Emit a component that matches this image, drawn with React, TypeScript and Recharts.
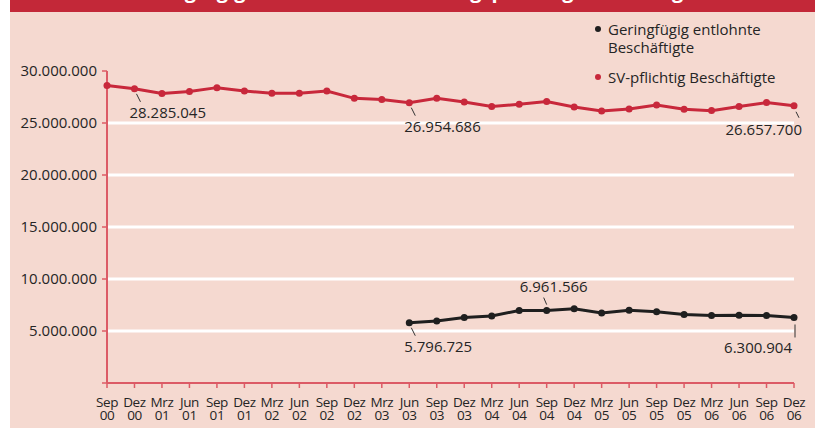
import React from "react";
import { LineChart, Line, XAxis, YAxis, ReferenceLine, Legend, LabelList } from "recharts";

// Quartalswerte Sep 2000 bis Dez 2006
const periods = [
  "Sep 00", "Dez 00", "Mrz 01", "Jun 01", "Sep 01", "Dez 01", "Mrz 02", "Jun 02", "Sep 02",
  "Dez 02", "Mrz 03", "Jun 03", "Sep 03", "Dez 03", "Mrz 04", "Jun 04", "Sep 04", "Dez 04",
  "Mrz 05", "Jun 05", "Sep 05", "Dez 05", "Mrz 06", "Jun 06", "Sep 06", "Dez 06",
];

const svPflichtig = [
  28600000, 28285045, 27830000, 28020000, 28400000, 28080000, 27860000, 27860000, 28080000,
  27370000, 27250000, 26954686, 27370000, 27020000, 26580000, 26800000, 27060000, 26540000,
  26150000, 26350000, 26730000, 26320000, 26190000, 26580000, 26960000, 26657700,
];

const geringfuegig = [
  null, null, null, null, null, null, null, null, null, null, null,
  5796725, 5970000, 6290000, 6450000, 6970000, 6961566, 7130000, 6740000, 7000000,
  6840000, 6580000, 6480000, 6510000, 6480000, 6300904,
];

const yTicks = [0, 5000000, 10000000, 15000000, 20000000, 25000000, 30000000];
const gridValues = [5000000, 10000000, 15000000, 20000000, 25000000];

const title = "Geringfügig und sozialversicherungspflichtig Beschäftigte";

const RED = "#c8283b";
const BLACK = "#1f1f1f";
const AXIS = "#dc5b66";
const TEXT = "#252525";
const BG = "#f5d9d0";
const FONT = "'Open Sans', 'Noto Sans', sans-serif";

const data = periods.map((period, i) => ({
  period,
  sv: svPflichtig[i],
  gering: geringfuegig[i],
}));

const fmt = (v: number) => String(v).replace(/\B(?=(\d{3})+(?!\d))/g, ".");

type Placement = "belowRight" | "belowLeft" | "above" | "belowVertical";

// which points carry a value label, and where it sits
const svLabels: Record<number, Placement> = { 1: "belowRight", 11: "belowRight", 25: "belowLeft" };
const geringLabels: Record<number, Placement> = { 11: "belowRight", 16: "above", 25: "belowVertical" };

function makeLabel(placements: Record<number, Placement>) {
  return (props: any) => {
    const { x, y, value, index } = props;
    const place = placements[index];
    if (!place || value == null) return null;
    let line = [0, 0, 0, 0];
    let tx = x;
    let ty = y;
    let anchor: "start" | "middle" | "end" = "start";
    if (place === "belowRight") {
      line = [x + 2, y + 5, x + 6, y + 13];
      tx = x - 5;
      ty = y + 23;
    } else if (place === "belowLeft") {
      line = [x + 2, y + 6, x + 5, y + 12];
      tx = x + 8;
      ty = y + 23;
      anchor = "end";
    } else if (place === "above") {
      line = [x, y - 6, x - 3, y - 13];
      tx = x + 7;
      ty = y - 25;
      anchor = "middle";
    } else {
      line = [x + 1, y + 7, x + 1, y + 20];
      tx = x - 2;
      ty = y + 30;
      anchor = "end";
    }
    return (
      <g>
        <line x1={line[0]} y1={line[1]} x2={line[2]} y2={line[3]} stroke="#333" strokeWidth={1} />
        <text
          x={tx}
          y={ty}
          textAnchor={anchor}
          dominantBaseline="central"
          fontSize={15}
          fontFamily={FONT}
          fill={TEXT}
        >
          {fmt(value)}
        </text>
      </g>
    );
  };
}

const PeriodTick = (props: any) => {
  const { x, y, payload } = props;
  const [month, year] = String(payload.value).split(" ");
  return (
    <text x={x} y={y} textAnchor="middle" fontSize={13.5} fontFamily={FONT} fill={TEXT} letterSpacing={-0.4}>
      <tspan x={x} dy={17}>{month}</tspan>
      <tspan x={x} dy={13}>{year}</tspan>
    </text>
  );
};

const LegendBox = (props: any) => {
  const { payload } = props;
  return (
    <div style={{ fontFamily: FONT, fontSize: 15, color: TEXT, width: 205 }}>
      {(payload || []).map((entry: any) => (
        <div key={entry.value} style={{ display: "flex", alignItems: "flex-start", marginBottom: 12, lineHeight: "18px" }}>
          <span
            style={{
              width: 6,
              height: 6,
              borderRadius: 3,
              background: entry.color,
              marginTop: 6,
              marginRight: 7,
              flexShrink: 0,
            }}
          />
          <span>{entry.value}</span>
        </div>
      ))}
    </div>
  );
};

export default function App() {
  return (
    <div style={{ position: "absolute", left: 0, top: 0, width: 815, height: 428, background: "#fff" }}>
      <div style={{ position: "absolute", left: 10, top: 0, width: 805, height: 428, background: BG }} />
      <div
        style={{
          position: "absolute",
          left: 10,
          top: 0,
          width: 805,
          height: 12,
          background: "#c32838",
          overflow: "hidden",
        }}
      >
        <div
          style={{
            position: "absolute",
            left: 120,
            top: -19,
            lineHeight: "20px",
            fontSize: 20,
            fontWeight: 700,
            color: "#fff",
            fontFamily: FONT,
            whiteSpace: "nowrap",
          }}
        >
          {title}
        </div>
      </div>
      <div style={{ position: "absolute", left: 0, top: 0 }}>
        <LineChart width={815} height={428} data={data} margin={{ top: 71, right: 21, bottom: 0, left: 0 }}>
          {gridValues.map((v) => (
            <ReferenceLine key={v} y={v} stroke="#ffffff" strokeWidth={3} />
          ))}
          <XAxis
            dataKey="period"
            scale="point"
            padding={{ left: 0, right: 0 }}
            height={45}
            interval={0}
            axisLine={{ stroke: AXIS, strokeWidth: 2 }}
            tickLine={{ stroke: AXIS, strokeWidth: 1.5 }}
            tickSize={5}
            tickMargin={2}
            tick={<PeriodTick />}
          />
          <YAxis
            width={107}
            domain={[0, 30000000]}
            ticks={yTicks}
            interval={0}
            axisLine={{ stroke: AXIS, strokeWidth: 2 }}
            tickLine={{ stroke: AXIS, strokeWidth: 1.5 }}
            tickSize={5}
            tickMargin={5}
            tickFormatter={(v: number) => (v === 0 ? "" : fmt(v))}
            tick={{ fontSize: 15, fill: TEXT, fontFamily: FONT }}
          />
          <Legend
            layout="vertical"
            align="center"
            verticalAlign="middle"
            wrapperStyle={{ top: 20, left: 595 }}
            content={<LegendBox />}
          />
          <Line
            name="Geringfügig entlohnte Beschäftigte"
            dataKey="gering"
            stroke={BLACK}
            strokeWidth={3}
            dot={{ r: 3.5, fill: BLACK, stroke: BLACK, strokeWidth: 0 }}
            isAnimationActive={false}
          >
            <LabelList dataKey="gering" content={makeLabel(geringLabels)} />
          </Line>
          <Line
            name="SV-pflichtig Beschäftigte"
            dataKey="sv"
            stroke={RED}
            strokeWidth={3}
            dot={{ r: 3.5, fill: RED, stroke: RED, strokeWidth: 0 }}
            isAnimationActive={false}
          >
            <LabelList dataKey="sv" content={makeLabel(svLabels)} />
          </Line>
        </LineChart>
      </div>
    </div>
  );
}
